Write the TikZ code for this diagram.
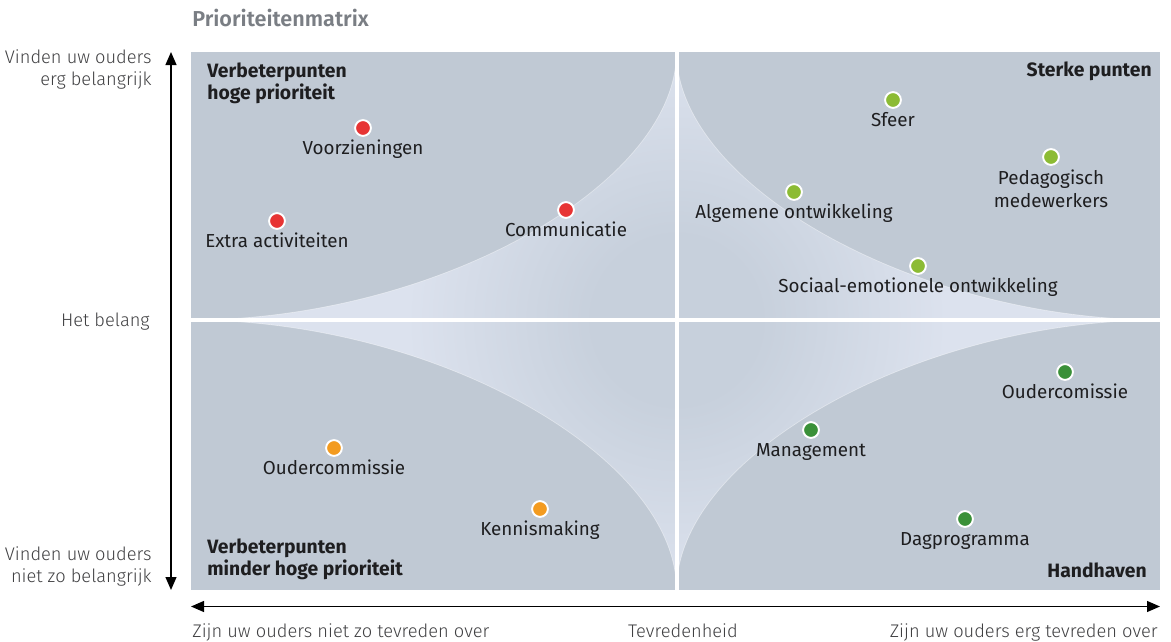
\documentclass[tikz,border=0pt]{standalone}
\usepackage{fontspec}
\setmainfont{Fira Sans}
\newfontfamily\lightfont{Fira Sans Light}
\newfontfamily\semifont{Fira Sans SemiBold}
\usetikzlibrary{arrows.meta,positioning,calc}

\definecolor{base}{RGB}{192,201,212}
\definecolor{glowlight}{RGB}{220,226,238}
\definecolor{glowdark}{RGB}{199,208,220}
\definecolor{glowedge}{RGB}{207,214,227}
\definecolor{dotred}{RGB}{231,52,52}
\definecolor{dotlime}{RGB}{140,187,52}
\definecolor{dotorange}{RGB}{243,155,32}
\definecolor{dotgreen}{RGB}{58,144,56}
\definecolor{txt}{RGB}{30,30,32}
\definecolor{titlegray}{RGB}{122,126,132}

\pgfdeclareradialshading{glow}{\pgfpoint{0bp}{0bp}}{color(0bp)=(glowdark); color(4bp)=(glowdark); color(13bp)=(glowlight); color(27bp)=(glowlight); color(50bp)=(glowedge)}

\begin{document}
\begin{tikzpicture}[x=0.02cm,y=-0.02cm,
  dot/.style={circle,draw=white,line width=1.1pt,minimum size=9pt,inner sep=0pt},
  lbltxt/.style={font=\fontsize{10.7}{13}\selectfont,text=txt,inner sep=0pt,align=center},
  lbl/.style={lbltxt,text height=7.7pt,text depth=2.7pt},
  quad/.style={font=\fontsize{11}{12.5}\selectfont\bfseries,text=txt,inner sep=0pt},
  side/.style={font=\fontsize{10.4}{12.5}\selectfont\lightfont,text=txt!85,inner sep=0pt},
  axis/.style={line width=0.9pt,{Triangle[length=7.4pt,width=6.2pt]}-{Triangle[length=7.4pt,width=6.2pt]}}]
  \useasboundingbox (0,0) rectangle (1171,642);

  % field
  \fill[base] (191,52) rectangle (1160,590);
  \coordinate (C) at (676.5,320);
  \coordinate (L) at (191,320);
  \coordinate (T) at (676.5,52);
  \coordinate (R) at (1160,320);
  \coordinate (B) at (676.5,590);
  \path[draw=white,draw opacity=0.4,line width=0.4pt,
    path picture={\shade[shading=glow] (C) circle (520);}]
    (L) .. controls ($(L)!0.5!(C)$) and ($(T)!0.5!(C)$) .. (T)
        .. controls ($(T)!0.5!(C)$) and ($(R)!0.5!(C)$) .. (R)
        .. controls ($(R)!0.5!(C)$) and ($(B)!0.5!(C)$) .. (B)
        .. controls ($(B)!0.5!(C)$) and ($(L)!0.5!(C)$) .. (L) -- cycle;
  \draw[white,line width=0.08cm] (T) -- (B);
  \draw[white,line width=0.08cm] (L) -- (R);

  \node[anchor=base west,font=\fontsize{12.3}{14}\selectfont\semifont,text=titlegray,inner sep=0pt] (title) at (192,27) {Prioriteitenmatrix};

  % quadrant names
  \node[quad,anchor=north west,align=left] (qtl) at (207,62.5) {Verbeterpunten\\hoge prioriteit};
  \node[quad,anchor=base east] (qtr) at (1152,77) {Sterke punten};
  \node[quad,anchor=north west,align=left] (qbl) at (207,538.5) {Verbeterpunten\\minder hoge prioriteit};
  \node[quad,anchor=base east] (qbr) at (1147,577) {Handhaven};

  % points
  \node[dot,fill=dotred] (voorz) at (363,128) {};
  \node[lbl,below=2pt of voorz] (voorzL) {Voorzieningen};
  \node[dot,fill=dotred] (extra) at (277,221) {};
  \node[lbl,below=2pt of extra] (extraL) {Extra activiteiten};
  \node[dot,fill=dotred] (comm) at (566,210) {};
  \node[lbl,below=2pt of comm] (commL) {Communicatie};

  \node[dot,fill=dotlime] (sfeer) at (893,100) {};
  \node[lbl,below=2pt of sfeer] (sfeerL) {Sfeer};
  \node[dot,fill=dotlime] (pedag) at (1051,157) {};
  \node[lbltxt,below=2pt of pedag] (pedagL) {Pedagogisch\\medewerkers};
  \node[dot,fill=dotlime] (algem) at (794,192) {};
  \node[lbl,below=2pt of algem] (algemL) {Algemene ontwikkeling};
  \node[dot,fill=dotlime] (sociaal) at (918,266) {};
  \node[lbl,below=2pt of sociaal] (sociaalL) {Sociaal-emotionele ontwikkeling};

  \node[dot,fill=dotorange] (ouderc) at (334,448) {};
  \node[lbl,below=2pt of ouderc] (oudercL) {Oudercommissie};
  \node[dot,fill=dotorange] (kennis) at (540,509) {};
  \node[lbl,below=2pt of kennis] (kennisL) {Kennismaking};

  \node[dot,fill=dotgreen] (oudercg) at (1065,372) {};
  \node[lbl,below=2pt of oudercg] (oudercgL) {Oudercomissie};
  \node[dot,fill=dotgreen] (manag) at (811,430) {};
  \node[lbl,below=2pt of manag] (managL) {Management};
  \node[dot,fill=dotgreen] (dagpr) at (965,519) {};
  \node[lbl,below=2pt of dagpr] (dagprL) {Dagprogramma};

  % axes
  \coordinate (vtop) at (171,52);
  \coordinate (vbot) at (171,590);
  \coordinate (hleft) at (191,606.5);
  \coordinate (hright) at (1160,606.5);
  \draw[axis] (vbot) -- (vtop);
  \draw[axis] (hleft) -- (hright);

  \node[side,anchor=north east,align=right] (hi) at (152,49) {Vinden uw ouders\\erg belangrijk};
  \node[side,anchor=base east] (mid) at (150,326) {Het belang};
  \node[side,anchor=north east,align=right] (lo) at (152,546) {Vinden uw ouders\\niet zo belangrijk};
  \node[side,anchor=base west] (left) at (192,637) {Zijn uw ouders niet zo tevreden over};
  \node[side,anchor=base] (centre) at (683,637) {Tevredenheid};
  \node[side,anchor=base east] (right) at (1158,637) {Zijn uw ouders erg tevreden over};
\end{tikzpicture}
\end{document}
